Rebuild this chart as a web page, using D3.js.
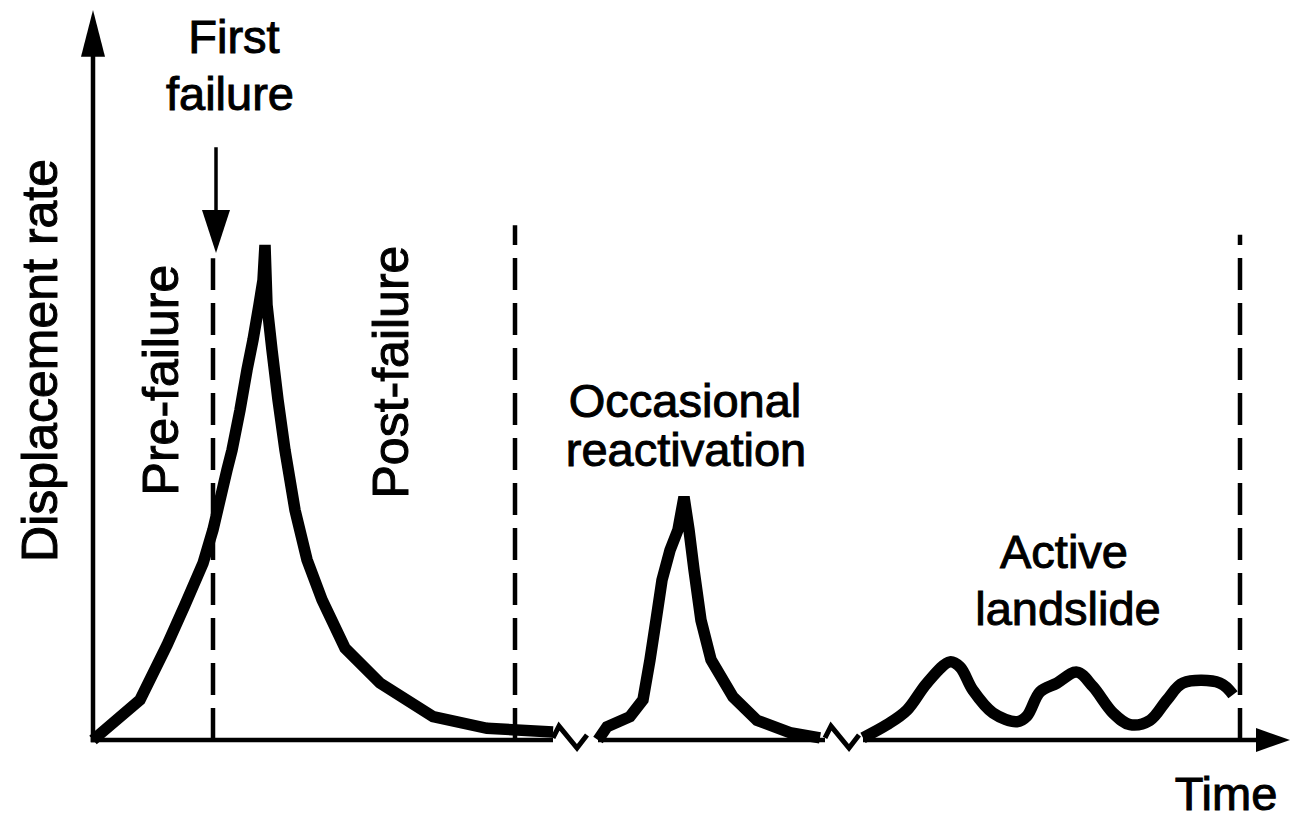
<!DOCTYPE html>
<html>
<head>
<meta charset="utf-8">
<script src="https://cdn.jsdelivr.net/npm/d3@7"></script>
<style>
  html, body { margin: 0; padding: 0; background: #fff; }
  svg { display: block; }
  text { font-family: "Liberation Sans", Arial, sans-serif; fill: #000; }
</style>
</head>
<body>
<svg id="chart" width="1299" height="822"></svg>
<script>
// Time (arbitrary units) and displacement rate (arbitrary units)
const firstFailureT = [0, 4.7, 7.4, 9.2, 11.0, 12.0, 13.4, 13.9, 14.7, 15.4, 16.0, 16.6, 17.0, 17.2, 17.4, 17.9, 18.5, 19.2, 20.2, 21.4, 22.9, 25.2, 28.7, 34.0, 39.4, 46.0];
const firstFailureRate = [0, 5.5, 13.0, 18.5, 24.2, 28.8, 37.0, 39.7, 45.2, 50.7, 54.8, 59.6, 63.0, 67.8, 59.6, 53.4, 46.6, 39.7, 31.5, 24.7, 19.2, 12.6, 7.8, 3.2, 1.6, 1.1];

const reactivationT = [50.5, 51.4, 53.7, 55.0, 55.7, 56.3, 56.9, 57.7, 58.5, 59.1, 59.6, 60.1, 60.8, 61.8, 64.0, 66.4, 69.7, 72.7];
const reactivationRate = [0, 1.8, 3.2, 5.5, 11.0, 16.4, 21.9, 26.0, 28.8, 33.3, 28.8, 23.3, 16.4, 11.0, 5.9, 2.7, 1.0, 0.3];

const activeT = [77.0, 79.4, 81.4, 83.4, 85.7, 86.7, 88.0, 90.0, 92.4, 93.4, 94.7, 96.4, 98.4, 100.0, 102.0, 103.7, 105.7, 107.4, 109.0, 112.7, 114.0];
const activeRate = [0.3, 2.1, 4.1, 7.8, 10.7, 10.0, 6.8, 3.7, 2.5, 3.3, 6.6, 7.8, 9.3, 7.3, 3.7, 2.1, 2.7, 5.5, 7.8, 7.8, 6.2];

// Stage boundaries (dashed lines): time and top of line
const boundaryT = [12.0, 42.2, 114.7];
const boundaryTop = [66.0, 70.5, 69.2];

// Visible pieces of the broken time axis
const axisStart = [0, 50.5, 77.0];
const axisEnd = [46.0, 73.2, 119.7];

// Breaks between pieces
const breakT = [46.0, 73.2];

const labels = ["Displacement rate", "Time", "First", "failure", "Pre-failure", "Post-failure",
                "Occasional", "reactivation", "Active", "landslide"];

const W = 1299, H = 822;
const svg = d3.select("#chart");
svg.append("rect").attr("width", W).attr("height", H).attr("fill", "#fff");

const x = d3.scaleLinear().domain([0, 120]).range([93, 1293]);
const y = d3.scaleLinear().domain([0, 100]).range([740, 10]);

const g = svg.append("g");

// Axes
const axisW = 4.5;
// y axis
g.append("line")
  .attr("x1", x(0)).attr("x2", x(0))
  .attr("y1", y(0) + axisW / 2).attr("y2", y(95))
  .attr("stroke", "#000").attr("stroke-width", axisW);
g.append("path")
  .attr("d", `M${x(0)},${y(100)} L${x(0) - 12},${y(93.6)} L${x(0) + 12},${y(93.6)} Z`)
  .attr("fill", "#000");

// x axis pieces
axisStart.forEach((s, i) => {
  const e = axisEnd[i];
  const last = i === axisStart.length - 1;
  g.append("line")
    .attr("x1", x(s) - (i === 0 ? axisW / 2 : 0)).attr("x2", last ? x(e) - 20 : x(e))
    .attr("y1", y(0)).attr("y2", y(0))
    .attr("stroke", "#000").attr("stroke-width", axisW);
  if (last) {
    g.append("path")
      .attr("d", `M${x(e)},${y(0)} L${x(e) - 34},${y(0) - 12} L${x(e) - 34},${y(0) + 12} Z`)
      .attr("fill", "#000");
  }
});

// break marks (zigzags)
breakT.forEach(t => {
  const pts = [[t, 0.3], [t + 0.6, 1.9], [t + 2.4, -1.1], [t + 3.4, 0.7]];
  g.append("path")
    .attr("d", d3.line().x(d => x(d[0])).y(d => y(d[1]))(pts))
    .attr("fill", "none").attr("stroke", "#000").attr("stroke-width", 5)
    .attr("stroke-linejoin", "miter");
});

// Stage boundaries
boundaryT.forEach((t, i) => {
  g.append("line")
    .attr("x1", x(t)).attr("x2", x(t))
    .attr("y1", y(0)).attr("y2", y(boundaryTop[i]))
    .attr("stroke", "#000").attr("stroke-width", 4.5)
    .attr("stroke-dasharray", "32 13");
});

// Displacement-rate curves
const line = d3.line().x(d => x(d[0])).y(d => y(d[1]));
[[firstFailureT, firstFailureRate], [reactivationT, reactivationRate], [activeT, activeRate]]
  .forEach(([ts, rs], k) => {
    const pts = ts.map((t, i) => [t, rs[i]]);
    g.append("path")
      .attr("d", (k === 2 ? line.curve(d3.curveCatmullRom) : line.curve(d3.curveLinear))(pts))
      .attr("fill", "none").attr("stroke", "#000").attr("stroke-width", 11.5)
      .attr("stroke-linejoin", "miter").attr("stroke-miterlimit", 1.6)
      .attr("stroke-linecap", "butt");
  });

// First-failure arrow
g.append("line")
  .attr("x1", x(12.3)).attr("x2", x(12.3))
  .attr("y1", y(81.2)).attr("y2", y(72))
  .attr("stroke", "#000").attr("stroke-width", 3.5);
g.append("path")
  .attr("d", `M${x(12.3)},${y(66.7)} L${x(12.3) - 14},${y(72.6)} L${x(12.3) + 14},${y(72.6)} Z`)
  .attr("fill", "#000");

// Labels
function label(txt, px, py, rot, fs) {
  const t = g.append("text")
    .attr("font-size", fs || 47)
    .attr("text-anchor", "middle")
    .attr("stroke", "#000").attr("stroke-width", 1)
    .text(txt);
  if (rot) t.attr("transform", `translate(${px},${py}) rotate(-90)`);
  else t.attr("x", px).attr("y", py);
  return t;
}
label(labels[0], x(-3.6), y(52.0), true, 50);
label(labels[1], x(113.3), y(-9.6));
label(labels[2], x(14.1), y(94.1));
label(labels[3], x(13.7), y(86.3));
label(labels[4], x(8.5), y(49.3), true, 50);
label(labels[5], x(31.5), y(50.4), true, 50);
label(labels[6], x(59.2), y(44.3));
label(labels[7], x(59.3), y(37.5));
label(labels[8], x(97.1), y(23.6));
label(labels[9], x(97.5), y(15.7));
</script>
</body>
</html>
